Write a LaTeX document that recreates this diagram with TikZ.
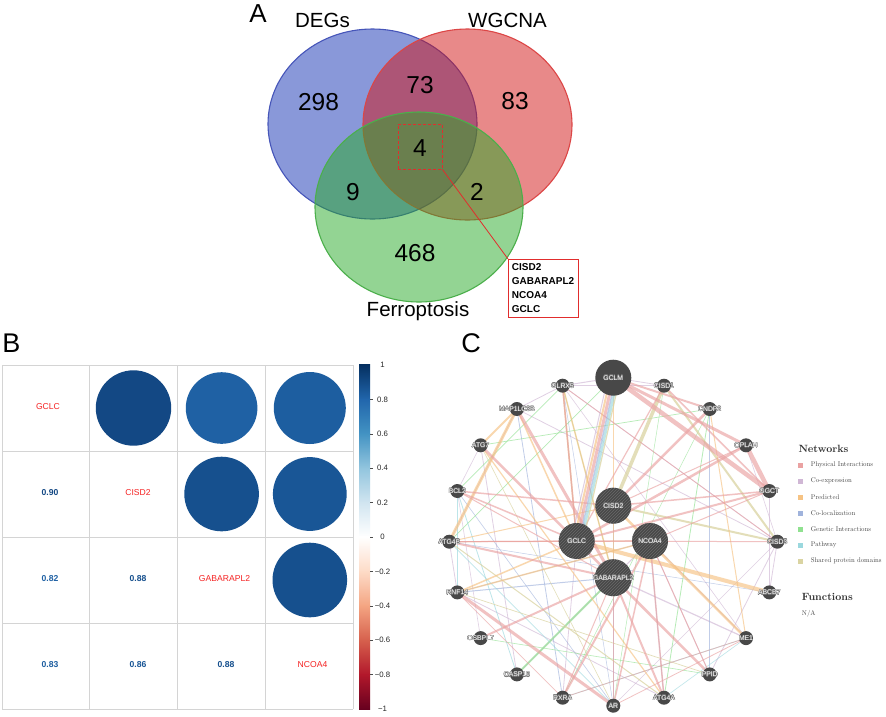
\documentclass[tikz,border=0pt]{standalone}
\usepackage{fontspec}
\newfontfamily\arial{Liberation Sans}
\usetikzlibrary{patterns,calc}
\pgfdeclarelayer{back}
\pgfdeclarelayer{bg}
\pgfsetlayers{back,bg,main}
% Venn colours
\definecolor{vbluef}{RGB}{20,50,180}
\definecolor{vblued}{RGB}{70,85,185}
\definecolor{vredf}{RGB}{210,20,20}
\definecolor{vredd}{RGB}{220,70,70}
\definecolor{vgreenf}{RGB}{40,170,40}
\definecolor{vgreend}{RGB}{75,175,75}
\definecolor{selred}{RGB}{225,45,45}
% corrplot colours
\definecolor{rb0}{RGB}{103,0,31}
\definecolor{rb1}{RGB}{178,24,43}
\definecolor{rb2}{RGB}{214,96,77}
\definecolor{rb3}{RGB}{244,165,130}
\definecolor{rb4}{RGB}{253,219,199}
\definecolor{rb5}{RGB}{255,255,255}
\definecolor{rb6}{RGB}{209,229,240}
\definecolor{rb7}{RGB}{146,197,222}
\definecolor{rb8}{RGB}{67,147,195}
\definecolor{rb9}{RGB}{33,102,172}
\definecolor{rb10}{RGB}{5,48,97}
\definecolor{c90}{RGB}{19,72,132}
\definecolor{c82}{RGB}{31,97,164}
\definecolor{c83}{RGB}{29,94,160}
\definecolor{c88}{RGB}{22,80,142}
\definecolor{c86}{RGB}{25,86,150}
\definecolor{tred}{RGB}{245,35,35}
\definecolor{gridc}{RGB}{212,212,212}
% GeneMANIA colours
\definecolor{ndark}{RGB}{72,72,72}
\definecolor{nstripe}{RGB}{105,105,105}
\definecolor{lout}{RGB}{115,115,115}
\definecolor{cphys}{HTML}{EAA2A2}
\definecolor{ccoexp}{HTML}{D0B7D5}
\definecolor{cpred}{HTML}{F6C384}
\definecolor{ccoloc}{HTML}{A0B3DC}
\definecolor{cgen}{HTML}{90E190}
\definecolor{cpath}{HTML}{9BD8DE}
\definecolor{cdom}{HTML}{DAD4A2}
\definecolor{legtxt}{RGB}{70,70,70}

\newcommand{\glab}[2]{%
  \foreach \dx/\dy in {0.4/0,-0.4/0,0/0.4,0/-0.4,0.28/0.28,-0.28/0.28,0.28/-0.28,-0.28/-0.28}
    {\node[nlab,text=lout] at ([xshift=\dx pt,yshift=\dy pt]#1.center) {#2};}
  \node[nlab,text=white] (l#1) at (#1.center) {#2};}
\newcommand{\legt}[1]{\scalebox{0.68}{\fontsize{10}{12}\selectfont #1}}

\begin{document}
\begin{tikzpicture}[x=1pt,y=-1pt,
  panel/.style={font=\arial\fontsize{26}{28}\selectfont},
  setlab/.style={font=\arial\fontsize{20.5}{24}\selectfont},
  vnum/.style={font=\arial\fontsize{24.5}{28}\selectfont},
  blab/.style={font=\arial\fontsize{8.6}{10}\selectfont, text=tred},
  bnum/.style={font=\arial\bfseries\fontsize{8.6}{10}\selectfont},
  tick/.style={font=\arial\fontsize{7.8}{9}\selectfont, text=black!85},
  sn/.style={circle, fill=ndark, minimum size=14, inner sep=0},
  bnp/.style={circle, fill=ndark, minimum size=36, inner sep=0},
  bn/.style={circle, fill=ndark, minimum size=36, inner sep=0, postaction={pattern=north east lines, pattern color=nstripe}},
  nlab/.style={font=\arial\fontsize{6.8}{7}\selectfont, inner sep=0},
  ephys/.style={draw=cphys, line width=#1, opacity=.65}, ephys/.default=1,
  ecoex/.style={draw=ccoexp, line width=#1, opacity=.65}, ecoex/.default=.8,
  epred/.style={draw=cpred, line width=#1, opacity=.65}, epred/.default=1,
  ecolo/.style={draw=ccoloc, line width=#1, opacity=.65}, ecolo/.default=.7,
  egen/.style={draw=cgen, line width=#1, opacity=.65}, egen/.default=.7,
  epath/.style={draw=cpath, line width=#1, opacity=.65}, epath/.default=.7,
  edom/.style={draw=cdom, line width=#1, opacity=.75}, edom/.default=1,
  lsq/.style={minimum size=5, inner sep=0},
  ltxt/.style={anchor=west, inner sep=0, text=legtxt},
  lhead/.style={anchor=west, inner sep=0, text=black!80, font=\bfseries\fontsize{10.5}{12}\selectfont}
]
\useasboundingbox (0,0) rectangle (886,716);
\begin{pgfonlayer}{back}
\fill[white] (0,0) rectangle (886,716);
\end{pgfonlayer}

%%%%%%%%%%%%%%%% Panel A
\node[panel] (pA) at (258,14) {A};
\node[setlab] (sDEG) at (322.5,20) {DEGs};
\node[setlab] (sWG) at (507.5,20) {WGCNA};
\draw[line width=1.1, draw=vblued, fill=vbluef, fill opacity=.5] (372.5,124) ellipse [x radius=104.5, y radius=95];
\draw[line width=1.1, draw=vredd, fill=vredf, fill opacity=.5] (467.5,124.5) ellipse [x radius=104.5, y radius=95.5];
\draw[line width=1.1, draw=vgreend, fill=vgreenf, fill opacity=.5] (419,207) ellipse [x radius=104, y radius=95];
\node[setlab] (sFer) at (418,311) {Ferroptosis};
\node[vnum] (n298) at (318.5,102) {298};
\node[vnum] (n73) at (420,85) {73};
\node[vnum] (n83) at (515,101) {83};
\node[vnum] (n4) at (420,148) {4};
\node[vnum] (n9) at (353,192) {9};
\node[vnum] (n2) at (477,192) {2};
\node[vnum] (n468) at (415,253) {468};
\node[draw=selred, dashed, dash pattern=on 3pt off 2pt, line width=.8, minimum width=44, minimum height=45, inner sep=0] (sel) at (420,146.5) {};
\node[draw=selred, line width=.9, anchor=north west, align=left, text width=63, inner xsep=3.5, inner ysep=4.3,
      font=\arial\bfseries\fontsize{10}{14}\selectfont] (genes) at (508,259) {CISD2\\GABARAPL2\\NCOA4\\GCLC};
\draw[selred, line width=.8] (sel.south east) -- (genes.north west);

%%%%%%%%%%%%%%%% Panel B
\node[panel, font=\arial\fontsize{27}{30}\selectfont] (pB) at (11.5,343) {B};
\foreach \x in {2,89.75,177.5,265.25,353} \draw[gridc, line width=.8] (\x,365) -- (\x,709);
\foreach \y in {365,451,537,623,709} \draw[gridc, line width=.8] (2,\y) -- (353,\y);
\fill[c90] (133.5,408) circle (37.7);
\fill[c82] (221.6,408) circle (35.8);
\fill[c83] (309.8,408) circle (36);
\fill[c88] (221.6,494) circle (37.3);
\fill[c86] (309.8,494) circle (36.9);
\fill[c88] (309.8,580) circle (37.3);
\node[blab] (bGCLC) at (48,407) {GCLC};
\node[blab] (bCISD2) at (138,493) {CISD2};
\node[blab] (bGAB) at (224.5,579) {GABARAPL2};
\node[blab] (bNCOA4) at (312.5,665) {NCOA4};
\node[bnum, text=c90] (v1) at (50,493) {0.90};
\node[bnum, text=c82] (v2) at (50,579) {0.82};
\node[bnum, text=c88] (v3) at (138,579) {0.88};
\node[bnum, text=c83] (v4) at (50,665) {0.83};
\node[bnum, text=c86] (v5) at (138,665) {0.86};
\node[bnum, text=c88] (v6) at (226,665) {0.88};
% colour bar, piecewise linear
\foreach \i/\ct/\cb in {0/rb10/rb9, 1/rb9/rb8, 2/rb8/rb7, 3/rb7/rb6, 4/rb6/rb5, 5/rb5/rb4, 6/rb4/rb3, 7/rb3/rb2, 8/rb2/rb1, 9/rb1/rb0}
  \shade[top color=\ct, bottom color=\cb] (359,365+\i*34.4-0.2) rectangle (370,365+\i*34.4+34.6);
\foreach \i/\t in {0/1,1/0.8,2/0.6,3/0.4,4/0.2,5/0,6/−0.2,7/−0.4,8/−0.6,9/−0.8,10/−1}{
  \node[tick] (tk\i) at (382.5,365+\i*34.4) {\t};
}
\foreach \i in {1,...,9} \draw[black!70, line width=.5] (370,365+\i*34.4) -- (373,365+\i*34.4);

%%%%%%%%%%%%%%%% Panel C
\node[panel, font=\arial\fontsize{27}{30}\selectfont] (pC) at (471,343) {C};
% ring nodes
\node[bnp] (gclm) at (613.3,377.7) {};
\node[sn] (cisd1) at (664.0,385.7) {};
\node[sn] (cndp2) at (709.7,409.0) {};
\node[sn] (oplah) at (746.0,445.3) {};
\node[sn] (ggct) at (769.3,491.0) {};
\node[sn] (cisd3) at (777.3,541.7) {};
\node[sn] (abcb7) at (769.3,592.4) {};
\node[sn] (me1) at (746.0,638.1) {};
\node[sn] (ppid) at (709.7,674.4) {};
\node[sn] (atg4a) at (664.0,697.7) {};
\node[sn] (ar) at (613.3,705.7) {};
\node[sn] (rxra) at (562.6,697.7) {};
\node[sn] (casp10) at (516.9,674.4) {};
\node[sn] (osbpl7) at (480.6,638.1) {};
\node[sn] (rnf14) at (457.3,592.4) {};
\node[sn] (atg4b) at (449.3,541.7) {};
\node[sn] (bcl2) at (457.3,491.0) {};
\node[sn] (atg7) at (480.6,445.3) {};
\node[sn] (map1lc3b) at (516.9,409.0) {};
\node[sn] (glrx5) at (562.6,385.7) {};
% query nodes
\node[bn] (cisd2) at (613.3,505.7) {};
\node[bn] (gclc) at (576.7,541) {};
\node[bn] (ncoa4) at (650,541) {};
\node[bn, minimum size=37] (gabarapl2) at (613.3,577.7) {};

\begin{pgfonlayer}{bg}
% co-expression
\foreach \a/\b/\w in {glrx5/gclm/1, glrx5/cisd1/1, glrx5/cisd3/.8, map1lc3b/glrx5/.8, gclm/cisd1/.8, atg7/casp10/.8,
  gabarapl2/me1/1.2, ncoa4/ppid/.8, atg4b/rnf14/.8, cisd3/abcb7/.8, cisd3/ppid/.8, ggct/abcb7/.8, rnf14/atg4a/.8,
  casp10/ncoa4/1, map1lc3b/cisd3/.8, bcl2/osbpl7/.6, ncoa4/me1/1, atg4b/map1lc3b/.8, oplah/cisd3/.6, glrx5/me1/.6,
  atg7/bcl2/.6, rxra/gclc/.8, ar/cisd3/.6}
  \draw[ecoex=\w] (\a.center) -- (\b.center);
% co-localization
\foreach \a/\b/\w in {map1lc3b/rxra/.8, rnf14/gabarapl2/1, bcl2/ar/.6, cisd2/ar/.7, ncoa4/atg4a/.7, atg4b/abcb7/.5,
  rnf14/ncoa4/.6, glrx5/ar/.5, cndp2/ppid/.5}
  \draw[ecolo=\w] (\a.center) -- (\b.center);
% genetic
\foreach \a/\b/\w in {casp10/gabarapl2/2, glrx5/bcl2/.8, gclm/atg4b/.7, cndp2/atg4a/.8, atg7/cndp2/.7, osbpl7/ppid/.6,
  gabarapl2/glrx5/.6, cndp2/rxra/.5, cisd1/ar/.5}
  \draw[egen=\w] (\a.center) -- (\b.center);
% pathway
\foreach \a/\b/\w in {bcl2/casp10/.8, me1/rxra/.8, glrx5/gclc/.8, atg4b/ar/.6, me1/atg4a/.6, bcl2/rnf14/.5}
  \draw[epath=\w] (\a.center) -- (\b.center);
% shared domains
\foreach \a/\b/\w in {cisd1/cisd2/3.5, cisd1/cisd3/2, cisd2/cisd3/2, atg4b/atg4a/1, rnf14/ppid/.7, atg7/ar/.6}
  \draw[edom=\w] (\a.center) -- (\b.center);
% predicted
\foreach \a/\b/\w in {map1lc3b/atg4b/3, map1lc3b/atg7/2, gclc/abcb7/4, cisd2/me1/2.5, glrx5/gabarapl2/1.5,
  rnf14/gclc/1.5, rnf14/ncoa4/1.5, atg7/atg4a/1.2, cndp2/me1/1, gclm/gabarapl2/1.5, map1lc3b/gclc/1.5,
  atg4b/cisd2/1, atg4b/ncoa4/.8, glrx5/gclc/1.5}
  \draw[epred=\w] (\a.center) -- (\b.center);
% physical
\foreach \a/\b/\w in {gclm/ggct/4.5, gclm/oplah/3, oplah/ggct/4.5, gclm/cndp2/2, gclc/oplah/2.5, gclc/ggct/2,
  cisd2/cndp2/2.5, cisd2/ggct/1.5, cisd2/oplah/1, map1lc3b/gabarapl2/3, atg7/gabarapl2/2.5, bcl2/cisd2/1.5,
  bcl2/gclc/1.5, bcl2/gabarapl2/1, atg4b/gabarapl2/2, atg4b/ncoa4/1.2, atg4b/gclc/1, rnf14/ar/3,
  osbpl7/gabarapl2/2, rxra/ncoa4/2, ar/ncoa4/1.5, ar/gabarapl2/1.5, atg4a/gabarapl2/2, atg4a/ncoa4/1.5,
  ppid/gabarapl2/2.5, rxra/gabarapl2/1, glrx5/gclc/1.5, cisd1/gclc/1.2, me1/rxra/.8, me1/ar/.8, cisd3/gclc/1,
  ggct/ncoa4/1, cisd1/ggct/1.5, ppid/ncoa4/1, glrx5/cisd3/.8, rnf14/rxra/.8}
  \draw[ephys=\w] (\a.center) -- (\b.center);
% GCLM-GCLC multi-type band
\draw[ephys=3] (gclm.center) -- (gclc.center);
\draw[epred=2, transform canvas={xshift=-3pt}] (gclm.center) -- (gclc.center);
\draw[ecolo=1.5, transform canvas={xshift=2.5pt}] (gclm.center) -- (gclc.center);
\draw[epath=2.5, transform canvas={xshift=4.5pt}] (gclm.center) -- (gclc.center);
\draw[edom=1.2, transform canvas={xshift=6.5pt}] (gclm.center) -- (gclc.center);
\draw[ecoex=1, transform canvas={xshift=-5.5pt}] (gclm.center) -- (gclc.center);
\end{pgfonlayer}

% labels
\glab{gclm}{GCLM}
\glab{cisd1}{CISD1}
\glab{cndp2}{CNDP2}
\glab{oplah}{OPLAH}
\glab{ggct}{GGCT}
\glab{cisd3}{CISD3}
\glab{abcb7}{ABCB7}
\glab{me1}{ME1}
\glab{ppid}{PPID}
\glab{atg4a}{ATG4A}
\glab{ar}{AR}
\glab{rxra}{RXRA}
\glab{casp10}{CASP10}
\glab{osbpl7}{OSBPL7}
\glab{rnf14}{RNF14}
\glab{atg4b}{ATG4B}
\glab{bcl2}{BCL2}
\glab{atg7}{ATG7}
\glab{map1lc3b}{MAP1LC3B}
\glab{glrx5}{GLRX5}
\glab{cisd2}{CISD2}
\glab{gclc}{GCLC}
\glab{ncoa4}{NCOA4}
\glab{gabarapl2}{GABARAPL2}

% legend
\node[lhead] (lnet) at (798.3,449) {Networks};
\foreach \i/\c/\t in {0/cphys/Physical Interactions, 1/ccoexp/Co-expression, 2/cpred/Predicted,
  3/ccoloc/Co-localization, 4/cgen/Genetic Interactions, 5/cpath/Pathway, 6/cdom/Shared protein domains}{
  \node[lsq, fill=\c] (lsq\i) at (800.7,465+\i*16) {};
  \node[ltxt] (ltx\i) at (810.7,465+\i*16) {\legt{\t}};
}
\node[lhead] (lfun) at (801.7,597.3) {Functions};
\node[ltxt] (lna) at (801.7,613.3) {\legt{N/A}};
\end{tikzpicture}
\end{document}
